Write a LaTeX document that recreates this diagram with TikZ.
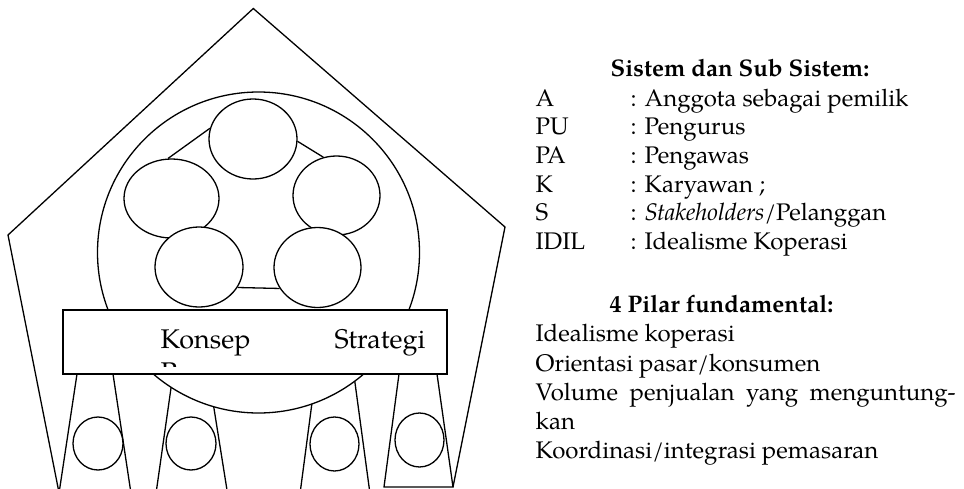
\documentclass[tikz,border=0pt]{standalone}
\usepackage{fontspec}
\setmainfont{TeX Gyre Pagella}
\usetikzlibrary{shapes.geometric}
\tikzset{
  ell/.style={ellipse, draw, fill=white, inner sep=0pt},
  legcirc/.style={ellipse, draw, fill=white, inner sep=0pt},
  txt/.style={anchor=base west, inner sep=0pt, font=\fontsize{24}{28.7}\selectfont},
  ttl/.style={anchor=base, inner sep=0pt, font=\fontsize{24}{28.7}\selectfont\bfseries},
  boxtxt/.style={inner sep=0pt, font=\fontsize{27}{33}\selectfont}
}
\begin{document}
\begin{tikzpicture}[x=1pt,y=-1pt,line width=1.3pt]
\useasboundingbox (0,0) rectangle (964,488);
\begin{scope}
\clip (0,0) rectangle (964,488);
% outer pentagon
\draw[line join=miter] (58.5,490) -- (8,235) -- (253.3,8.5) -- (505,227) -- (453,487);
% legs
\draw (77,374) -- (59.5,490);
\draw (113,374) -- (130.5,490);
\draw (173,374) -- (156.5,490);
\draw (208.5,374) -- (227,490);
\draw (315.8,374) -- (300.5,490);
\draw (353.8,374) -- (369.5,490);
\draw[line join=miter] (399,374) -- (384,487) -- (453,487) -- (437,374);
% big circle
\draw[fill=white] (258.5,252.5) circle[x radius=161pt, y radius=160.5pt];
\end{scope}
% inner ellipses
\node[ell, minimum width=88pt, minimum height=80pt] (top) at (253,139) {};
\node[ell, minimum width=95pt, minimum height=79pt] (lu) at (171.5,198.5) {};
\node[ell, minimum width=87pt, minimum height=79pt] (ru) at (336.5,195.5) {};
\node[ell, minimum width=88pt, minimum height=80pt] (ll) at (199,267) {};
\node[ell, minimum width=87pt, minimum height=80pt] (lr) at (317.5,267.5) {};
\draw (top.166) -- (lu.95);
\draw (top.357) -- (ru.109);
\draw (ll.-28) -- (lr.209);
% concept box
\node[draw, fill=white, minimum width=384pt, minimum height=64pt, inner sep=0pt] (box) at (255,342) {};
\begin{scope}
\clip (64,311) rectangle (446,366);
\node[boxtxt, anchor=base west] (konsep) at (160,348.3) {Konsep};
\node[boxtxt, anchor=base east] (strategi) at (426,348.3) {Strategi};
\node[boxtxt, anchor=base west] (pemasaran) at (160,381) {Pemasaran};
\end{scope}
% leg circles
\node[legcirc, minimum width=50pt, minimum height=53pt] (c1) at (98,443.5) {};
\node[legcirc, minimum width=50pt, minimum height=53pt] (c2) at (191,443.5) {};
\node[legcirc, minimum width=49pt, minimum height=54pt] (c3) at (334.5,444) {};
\node[legcirc, minimum width=49pt, minimum height=54pt] (c4) at (419.5,440) {};
% legend
\node[ttl] (t1) at (740,76) {Sistem dan Sub Sistem:};
\node[txt] (la) at (535,106) {A};
\node[txt] (da) at (630,106) {: Anggota sebagai pemilik};
\node[txt] (lpu) at (535,134.7) {PU};
\node[txt] (dpu) at (630,134.7) {: Pengurus};
\node[txt] (lpa) at (535,163.3) {PA};
\node[txt] (dpa) at (630,163.3) {: Pengawas};
\node[txt] (lk) at (535,192) {K};
\node[txt] (dk) at (630,192) {: Karyawan ;};
\node[txt] (ls) at (535,220.6) {S};
\node[txt] (ds) at (630,220.6) {: \textit{Stakeholders}/Pelanggan};
\node[txt] (lid) at (535,249.3) {IDIL};
\node[txt] (did) at (630,249.3) {: Idealisme Koperasi};
\node[ttl] (t2) at (721.5,312.7) {4 Pilar fundamental:};
\node[txt] (p1) at (535,341.7) {Idealisme koperasi};
\node[txt] (p2) at (535,371) {Orientasi pasar/konsumen};
\node[txt] (p3) at (535,400) {\makebox[420pt][s]{Volume penjualan yang menguntung-}};
\node[txt] (p3b) at (535,429.3) {kan};
\node[txt] (p4) at (535,458.3) {Koordinasi/integrasi pemasaran};
\end{tikzpicture}
\end{document}
